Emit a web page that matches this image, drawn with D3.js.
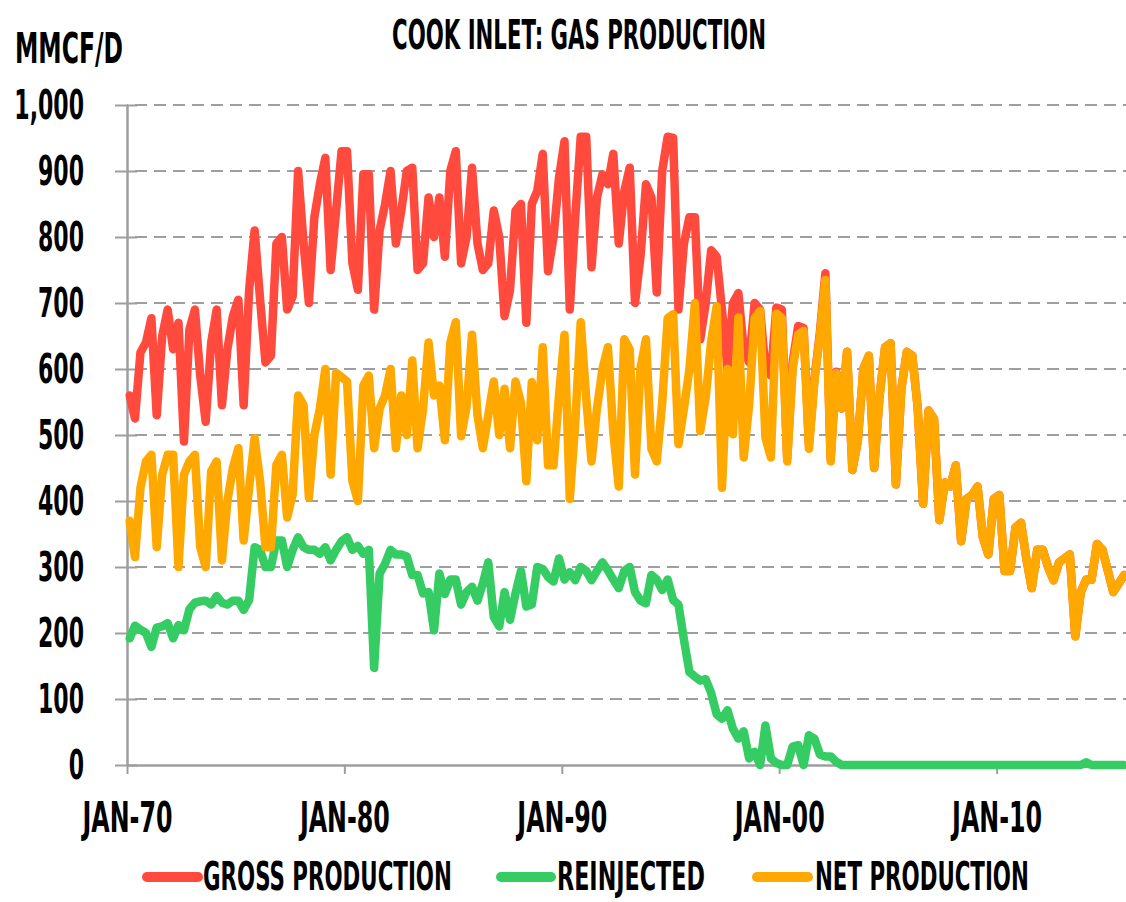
<!DOCTYPE html>
<html>
<head>
<meta charset="utf-8">
<script src="https://cdn.jsdelivr.net/npm/d3@7"></script>
<style>
  body { margin: 0; background: #ffffff; }
  svg text { font-family: "Liberation Sans Narrow", "DejaVu Sans Condensed", "Arial Narrow", sans-serif; font-weight: bold; fill: #000; }
</style>
</head>
<body>
<svg id="chart" width="1126" height="902"></svg>
<script>
// ---------------- DATA (quarterly averages, MMCF/D, Q1 1970 .. Q4 2015) ----------------
const startYear = 1970;
const grossProduction = [
  560, 525, 625, 640,   677, 530, 650, 690,   630, 670, 490, 660,   690, 590, 520, 640,   690, 545, 630, 680,
  705, 545, 720, 810,   705, 610, 620, 790,   800, 690, 710, 900,   790, 700, 830, 880,   920, 750, 840, 930,
  930, 760, 720, 895,   895, 690, 810, 850,   900, 790, 840, 900,   905, 750, 760, 860,   800, 860, 770, 900,
  930, 760, 800, 905,   790, 750, 760, 840,   800, 680, 720, 840,   850, 670, 850, 870,   926, 748, 800, 890,
  945, 690, 830, 952,   952, 754, 860, 895,   880, 926, 790, 869,   905, 700, 770, 880,   860, 716, 900, 952,
  950, 690, 790, 830,   830, 645, 700, 780,   770, 690, 600, 700,   715, 630, 610, 700,   690, 600, 590, 693,
  690, 465, 610, 665,   662, 485, 585, 655,   745, 465, 596, 540,   626, 447, 492, 600,   620, 450, 560, 633,
  639, 425, 570, 626,   620, 543, 396, 537,   524, 371, 428, 422,   454, 339, 403, 409,   422, 345, 319, 403,
  409, 294, 294, 360,   367, 313, 268, 326,   326, 300, 280, 307,   313, 319, 195, 262,   281, 281, 335, 326,
  294, 262, 275, 288
];
const reinjected = [
  192, 211, 205, 200,   179, 208, 210, 215,   192, 212, 204, 236,   246, 248, 249, 243,   256, 246, 243, 249,
  249, 235, 250, 330,   326, 300, 300, 340,   340, 300, 326, 345,   330, 326, 326, 320,   330, 310, 326, 339,
  345, 326, 332, 320,   326, 147, 290, 305,   326, 319, 319, 316,   288, 288, 260, 262,   204, 290, 259, 281,
  281, 243, 262, 270,   249, 275, 307, 224,   210, 262, 220, 260,   294, 240, 243, 300,   297, 285, 278, 313,
  281, 292, 280, 300,   294, 280, 294, 307,   295, 281, 268, 294,   300, 262, 249, 245,   288, 281, 265, 281,
  250, 243, 190, 141,   134, 128, 130, 109,    77,  70,  83,  55,    40,  51,  10,  20,     0,  60,  10,   3,
    0,   0,  28,  30,     0,  45,  40,  16,    13,  13,   5,   0,     0,   0,   0,   0,     0,   0,   0,   0,
    0,   0,   0,   0,     0,   0,   0,   0,     0,   0,   0,   0,     0,   0,   0,   0,     0,   0,   0,   0,
    0,   0,   0,   0,     0,   0,   0,   0,     0,   0,   0,   0,     0,   0,   0,   0,     4,   0,   0,   0,
    0,   0,   0,   0
];
const netProduction = [
  370, 315, 420, 460,   470, 330, 440, 470,   470, 300, 440, 460,   470, 330, 300, 445,   460, 310, 400, 450,
  480, 340, 420, 495,   430, 330, 330, 455,   470, 375, 410, 560,   545, 405, 500, 540,   600, 440, 594, 588,
  581, 430, 400, 575,   590, 480, 540, 560,   600, 480, 560, 500,   613, 480, 540, 640,   560, 575, 492, 640,
  671, 498, 543, 652,   530, 480, 530, 581,   500, 570, 480, 581,   549, 430, 580, 492,   633, 454, 454, 560,
  652, 403, 518, 671,   556, 460, 540, 600,   633, 505, 422, 645,   630, 440, 601, 645,   479, 460, 549, 677,
  683, 486, 540, 600,   700, 506, 557, 642,   695, 420, 600, 501,   678, 466, 546, 677,   688, 496, 466, 684,
  677, 460, 600, 652,   658, 479, 581, 650,   735, 460, 594, 540,   626, 447, 492, 600,   620, 450, 560, 633,
  639, 425, 570, 626,   620, 543, 396, 537,   524, 371, 428, 422,   454, 339, 403, 409,   422, 345, 319, 403,
  409, 294, 294, 360,   367, 313, 268, 326,   326, 300, 280, 307,   313, 319, 195, 262,   281, 281, 335, 326,
  294, 262, 275, 288
];
const yTickValues = [0, 100, 200, 300, 400, 500, 600, 700, 800, 900, 1000];
const xTickYears = [1970, 1980, 1990, 2000, 2010];
const seriesNames = ["GROSS PRODUCTION", "REINJECTED", "NET PRODUCTION"];
const seriesColors = ["#ff4a3d", "#36cc64", "#ffa800"];
const chartTitle = "COOK INLET: GAS PRODUCTION";
const unitLabel = "MMCF/D";

// ---------------- LAYOUT ----------------
const W = 1126, H = 902;
const plot = { left: 127, right: 1127, top: 105, bottom: 765 };
const gridColor = "#9e9e9e";
const svg = d3.select("#chart");
svg.append("rect").attr("width", W).attr("height", H).attr("fill", "#fff");

// squeeze a text horizontally to a target width, anchored at (ax, ay)
function squeeze(node, targetWidth, ax, ay) {
  const w = node.getComputedTextLength();
  const k = w > 0 ? targetWidth / w : 1;
  d3.select(node).attr("x", 0).attr("y", 0)
    .attr("transform", `translate(${ax},${ay}) scale(${k},1)`);
  return k;
}

const quarterDate = i => new Date(startYear, 3 * i + 1, 15);
const x = d3.scaleTime().domain([new Date(1970, 0, 1), new Date(2016, 0, 1)]).range([plot.left, plot.right]);
const y = d3.scaleLinear().domain([0, 1000]).range([plot.bottom, plot.top]);

// gridlines
svg.append("g").selectAll("line").data(yTickValues.filter(v => v > 0)).join("line")
  .attr("x1", plot.left).attr("x2", W)
  .attr("y1", d => y(d)).attr("y2", d => y(d))
  .attr("stroke", gridColor).attr("stroke-width", 2)
  .attr("stroke-dasharray", "12,7").attr("stroke-dashoffset", -8);

// y axis
const yPad = 31, yTick = 12;
const yAxisG = svg.append("g").attr("transform", `translate(${plot.left},0)`)
  .call(d3.axisLeft(y).tickValues(yTickValues).tickFormat(d3.format(",")).tickSizeInner(yTick).tickSizeOuter(0).tickPadding(yPad));
yAxisG.attr("font-family", null).attr("font-size", null);
yAxisG.select(".domain").attr("stroke", gridColor).attr("stroke-width", 2.5);
yAxisG.selectAll(".tick line").attr("stroke", gridColor).attr("stroke-width", 2).attr("x1", 10);
yAxisG.selectAll(".tick text").attr("font-size", 40).attr("fill", "#000");
let refW = 0;
yAxisG.selectAll(".tick text").each(function (d) { if (d === 900) refW = this.getComputedTextLength(); });
const yk = refW > 0 ? 46 / refW : 1;
yAxisG.selectAll(".tick text").each(function () {
  const w = this.getComputedTextLength();
  squeeze(this, w * yk, -(yPad + yTick), 0);
  d3.select(this).attr("dy", "0.34em");
});

// x axis
const xPad = 28, xTick = 9;
const xAxisG = svg.append("g").attr("transform", `translate(0,${plot.bottom})`)
  .call(d3.axisBottom(x).tickValues(xTickYears.map(yr => new Date(yr, 0, 1)))
    .tickFormat(d => "JAN-" + d3.timeFormat("%y")(d)).tickSizeInner(xTick).tickSizeOuter(0).tickPadding(xPad));
xAxisG.attr("font-family", null).attr("font-size", null);
xAxisG.select(".domain").attr("stroke", gridColor).attr("stroke-width", 2.5);
xAxisG.selectAll(".tick line").attr("stroke", gridColor).attr("stroke-width", 2);
xAxisG.selectAll(".tick text").attr("font-size", 42).attr("fill", "#000")
  .each(function () { squeeze(this, 90, 0, xPad + xTick); d3.select(this).attr("dy", "0.71em"); });

// series lines
const series = [grossProduction, reinjected, netProduction];
const line = d3.line().x((d, i) => x(quarterDate(i))).y(d => y(d));
svg.append("g").selectAll("path").data(series).join("path")
  .attr("d", d => line(d))
  .attr("fill", "none")
  .attr("stroke", (d, i) => seriesColors[i])
  .attr("stroke-width", 8.5)
  .attr("stroke-linejoin", "round")
  .attr("stroke-linecap", "round");

// title & unit label
svg.append("text").attr("text-anchor", "middle").attr("font-size", 40).text(chartTitle)
  .each(function () { squeeze(this, 374, 579, 49); });
svg.append("text").attr("font-size", 42).text(unitLabel)
  .each(function () { squeeze(this, 108, 15, 63); });

// legend
const legendLayout = [
  { x1: 147, x2: 198, tx: 203, tw: 249 },
  { x1: 501, x2: 551, tx: 557, tw: 148 },
  { x1: 757, x2: 808, tx: 815, tw: 214 }
];
const lg = svg.append("g").selectAll("g").data(seriesNames).join("g");
lg.append("line")
  .attr("x1", (d, i) => legendLayout[i].x1).attr("x2", (d, i) => legendLayout[i].x2)
  .attr("y1", 877).attr("y2", 877)
  .attr("stroke", (d, i) => seriesColors[i]).attr("stroke-width", 10).attr("stroke-linecap", "round");
lg.append("text").attr("font-size", 39).text(d => d)
  .each(function (d, i) { squeeze(this, legendLayout[i].tw, legendLayout[i].tx, 890); });
</script>
</body>
</html>
